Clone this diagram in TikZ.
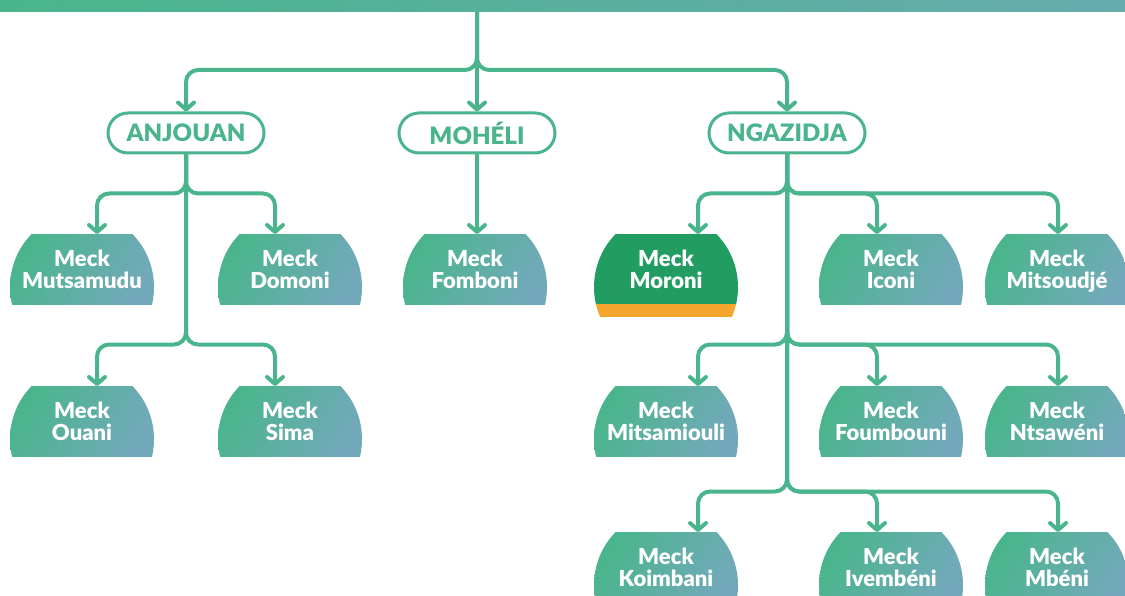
\documentclass[tikz,border=0pt]{standalone}
\usepackage{fontspec}
\setmainfont{Lato}
\newfontfamily\heavyfont{Lato Black}
\usetikzlibrary{arrows.meta,calc}
\definecolor{brand}{HTML}{4AB58C}
\definecolor{tealend}{HTML}{72A9BA}
\definecolor{barend}{HTML}{66ABAE}
\definecolor{capgreen}{HTML}{229D62}
\definecolor{accent}{HTML}{F4A62F}
\begin{document}
\begin{tikzpicture}[x=1pt,y=1pt,
  conn/.style={draw=brand, line width=4pt, rounded corners=12pt,
    -{Straight Barb[length=7pt,width=16pt,round]}},
  island/.style={draw=brand, line width=3pt, rounded corners=20pt,
    minimum width=156pt, minimum height=40pt, inner sep=0pt, fill=white,
    text=brand, font=\heavyfont\fontsize{24}{26}\selectfont},
  meckbase/.style={anchor=north, minimum width=144pt, minimum height=70pt,
    inner sep=0pt, align=center, text=white, text depth=0pt,
    font=\heavyfont\fontsize{22}{22}\selectfont},
  meck/.style={meckbase, path picture={
    \clip ([yshift=-53pt]path picture bounding box.north) ellipse [x radius=72pt, y radius=74.4pt];
    \shade[left color=brand, right color=tealend, shading angle=60]
      (path picture bounding box.north west) rectangle (path picture bounding box.south east);}},
  capital/.style={meckbase, path picture={
    \clip ([yshift=-53pt]path picture bounding box.north) ellipse [x radius=72pt, y radius=74.4pt];
    \fill[capgreen]
      (path picture bounding box.north west) rectangle (path picture bounding box.south east);}},
  topbar/.style={minimum width=1125pt, minimum height=12pt, inner sep=0pt, outer sep=0pt,
    left color=brand, middle color=brand, right color=barend}
]
\useasboundingbox (0,0) rectangle (1125,-596);

\node[topbar] (topbar) at (562.5,-6) {};

\node[island] (anjouan) at (186,-133) {ANJOUAN};
\node[island] (moheli) at (477,-133) {MOHÉLI};
\node[island] (ngazidja) at (787,-133) {NGAZIDJA};

\node[meck] (mutsamudu) at (82,-234) {Meck\\Mutsamudu};
\node[meck] (domoni) at (290,-234) {Meck\\Domoni};
\node[meck] (fomboni) at (475,-234) {Meck\\Fomboni};
\node[capital] (moroni) at (666,-234) {Meck\\Moroni};
\node[meck] (iconi) at (891,-234) {Meck\\Iconi};
\node[meck] (mitsoudje) at (1057,-234) {Meck\\Mitsoudjé};

\node[meck] (ouani) at (82,-386) {Meck\\Ouani};
\node[meck] (sima) at (290,-386) {Meck\\Sima};
\node[meck] (mitsamiouli) at (666,-386) {Meck\\Mitsamiouli};
\node[meck] (foumbouni) at (891,-386) {Meck\\Foumbouni};
\node[meck] (ntsaweni) at (1057,-386) {Meck\\Ntsawéni};

\node[meck] (koimbani) at (666,-532) {Meck\\Koimbani};
\node[meck] (ivembeni) at (891,-532) {Meck\\Ivembéni};
\node[meck] (mbeni) at (1057,-532) {Meck\\Mbéni};

\begin{scope}
  \clip ([yshift=-53pt]moroni.north) ellipse [x radius=72pt, y radius=74.4pt];
  \fill[accent] (moroni.south west) rectangle ([yshift=-13pt]moroni.south east);
\end{scope}

% top level
\draw[conn] (topbar.south -| moheli.north) -- (moheli.north);
\draw[conn] (topbar.south -| moheli.north) -- ++(0,-58) -| (anjouan.north);
\draw[conn] (topbar.south -| moheli.north) -- ++(0,-58) -| (ngazidja.north);

% Anjouan
\draw[conn] (anjouan.south) -- ++(0,-39) -| ($(mutsamudu.north)+(15,0)$);
\draw[conn] (anjouan.south) -- ++(0,-39) -| ($(domoni.north)+(-15,0)$);
\draw[conn] (anjouan.south) -- ++(0,-190) -| ($(ouani.north)+(15,0)$);
\draw[conn] (anjouan.south) -- ++(0,-190) -| ($(sima.north)+(-15,0)$);

% Moheli
\draw[conn] (moheli.south) -- (moheli.south |- fomboni.north);

% Ngazidja
\draw[conn] (ngazidja.south) -- ++(0,-39) -| ($(moroni.north)+(32,0)$);
\draw[conn] (ngazidja.south) -- ++(0,-39) -| ($(iconi.north)+(-14,0)$);
\draw[conn] (ngazidja.south) -- ++(0,-39) -| ($(mitsoudje.north)+(1,0)$);
\draw[conn] (ngazidja.south) -- ++(0,-190) -| ($(mitsamiouli.north)+(32,0)$);
\draw[conn] (ngazidja.south) -- ++(0,-190) -| ($(foumbouni.north)+(-14,0)$);
\draw[conn] (ngazidja.south) -- ++(0,-190) -| ($(ntsaweni.north)+(1,0)$);
\draw[conn] (ngazidja.south) -- ++(0,-337) -| ($(koimbani.north)+(32,0)$);
\draw[conn] (ngazidja.south) -- ++(0,-337) -| ($(ivembeni.north)+(-14,0)$);
\draw[conn] (ngazidja.south) -- ++(0,-337) -| ($(mbeni.north)+(1,0)$);
\end{tikzpicture}
\end{document}
